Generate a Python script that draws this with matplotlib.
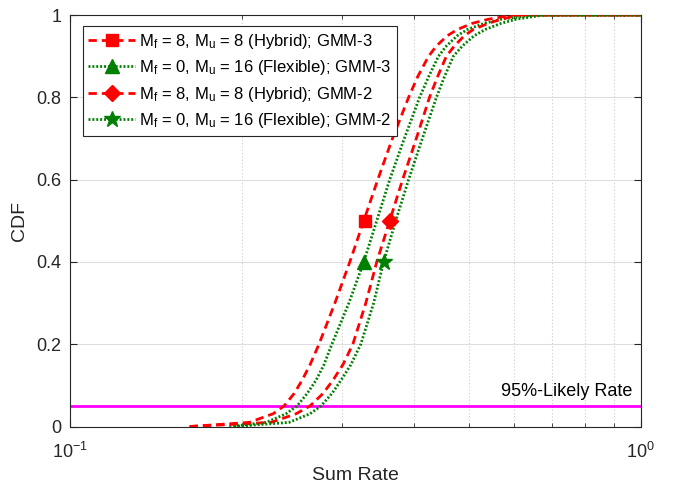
import matplotlib
matplotlib.use("Agg")
import matplotlib.pyplot as plt
from matplotlib.ticker import LogLocator, NullFormatter, FixedLocator

plt.rcParams['font.family'] = ['Liberation Sans', 'DejaVu Sans']
plt.rcParams['mathtext.fontset'] = 'custom'
plt.rcParams['mathtext.rm'] = 'Liberation Sans'
plt.rcParams['mathtext.it'] = 'Liberation Sans'

# CDF levels
cdf_levels = [0, 0.01, 0.031, 0.05, 0.08, 0.112, 0.15, 0.2, 0.3, 0.4, 0.5, 0.6,
              0.695, 0.8, 0.85, 0.9, 0.925, 0.95, 0.965, 0.98, 0.99, 1.0, 1.0]

# sum rate at each CDF level
hybrid_gmm3 = [0.1620, 0.2061, 0.2270, 0.2372, 0.2470, 0.2550, 0.2634, 0.2731,
               0.2912, 0.3093, 0.3272, 0.3462, 0.3662, 0.3921, 0.4066, 0.4250,
               0.4387, 0.4585, 0.4773, 0.5070, 0.5408, 0.5978, 1.0]
flex_gmm3 = [0.1902, 0.2207, 0.2391, 0.2500, 0.2603, 0.2698, 0.2786, 0.2877,
             0.3081, 0.3272, 0.3448, 0.3633, 0.3842, 0.4099, 0.4250, 0.4423,
             0.4567, 0.4773, 0.4969, 0.5321, 0.5696, 0.6479, 1.0]
hybrid_gmm2 = [0.1620, 0.2252, 0.2490, 0.2634, 0.2775, 0.2888, 0.3007, 0.3131,
               0.3299, 0.3448, 0.3633, 0.3827, 0.4034, 0.4266, 0.4406, 0.4567,
               0.4716, 0.4910, 0.5090, 0.5408, 0.5696, 0.6100, 1.0]
flex_gmm2 = [0.1941, 0.2420, 0.2634, 0.2753, 0.2877, 0.2983, 0.3105, 0.3233,
             0.3405, 0.3545, 0.3722, 0.3921, 0.4133, 0.4387, 0.4530, 0.4697,
             0.4871, 0.5111, 0.5341, 0.5696, 0.6050, 0.6745, 1.0]

# single marker per curve
marker_x = [0.3286, 0.3272, 0.3633, 0.3545]
marker_y = [0.5, 0.4, 0.5, 0.4]

labels = [r'M$_\mathregular{f}$ = 8, M$_\mathregular{u}$ = 8 (Hybrid); GMM-3',
          r'M$_\mathregular{f}$ = 0, M$_\mathregular{u}$ = 16 (Flexible); GMM-3',
          r'M$_\mathregular{f}$ = 8, M$_\mathregular{u}$ = 8 (Hybrid); GMM-2',
          r'M$_\mathregular{f}$ = 0, M$_\mathregular{u}$ = 16 (Flexible); GMM-2']

likely_level = 0.05

red = (1, 0, 0)
green = (0, 0.5, 0)
dashed = (0, (3, 1.8))
dotted = (0, (0.7, 0.7))
styles = [(red, dashed, 's', 8),
          (green, dotted, '^', 10),
          (red, dashed, 'D', 8),
          (green, dotted, '*', 12)]

fig = plt.figure(figsize=(6.76, 4.88), dpi=100)
ax = fig.add_axes([0.1036, 0.126, 0.8440, 0.843])

ax.axhline(likely_level, color=(1, 0, 1), lw=2, zorder=2)

handles = []
for i, series in enumerate([hybrid_gmm3, flex_gmm3, hybrid_gmm2, flex_gmm2]):
    color, ls, mk, ms = styles[i]
    ax.plot(series, cdf_levels, color=color, linestyle=ls, lw=2, zorder=3)
    ax.plot(marker_x[i], marker_y[i], linestyle='none', marker=mk, ms=ms,
            color=color, zorder=4)
    h, = ax.plot([], [], color=color, linestyle=ls, lw=2, marker=mk, ms=ms)
    handles.append(h)

ax.text(0.985, likely_level + 0.015, '95%-Likely Rate', fontsize=13,
        ha='right', va='bottom', transform=ax.get_yaxis_transform(),
        color='black')

ax.set_xscale('log')
ax.set_xlim(0.1, 1)
ax.set_ylim(0, 1)
ax.xaxis.set_major_locator(FixedLocator([0.1, 1]))
ax.xaxis.set_minor_locator(LogLocator(base=10, subs=range(2, 10)))
ax.xaxis.set_minor_formatter(NullFormatter())
ax.set_yticks([0, 0.2, 0.4, 0.6, 0.8, 1])
ax.set_yticklabels(['0', '0.2', '0.4', '0.6', '0.8', '1'])

ax.grid(True, which='major', color=(0.87, 0.87, 0.87), lw=0.8)
ax.grid(True, which='minor', axis='x', color=(0.8, 0.8, 0.8), lw=0.8,
        linestyle=(0, (1, 2)))
ax.set_axisbelow(True)

ax.tick_params(which='both', direction='in', top=True, right=True,
               colors=(0.15, 0.15, 0.15), labelsize=13, labelcolor=(0.15, 0.15, 0.15))
ax.tick_params(which='major', length=5)
ax.tick_params(axis='y', which='major', pad=6)
ax.tick_params(axis='x', which='major', pad=11)
ax.tick_params(which='minor', length=3)
for sp in ax.spines.values():
    sp.set_color((0.15, 0.15, 0.15))
    sp.set_linewidth(0.8)

ax.set_xlabel('Sum Rate', fontsize=14, labelpad=4, color=(0.15, 0.15, 0.15))
ax.set_ylabel('CDF', fontsize=14, labelpad=6, color=(0.15, 0.15, 0.15))

leg = ax.legend(handles, labels, loc='upper left', fontsize=12,
                bbox_to_anchor=(0.022, 0.974), fancybox=False, framealpha=1,
                edgecolor=(0.15, 0.15, 0.15), handlelength=2.8,
                handletextpad=0.25, borderpad=0.35, borderaxespad=0,
                labelspacing=0.45)
leg.get_frame().set_linewidth(0.8)

fig.savefig('out.png', dpi=100)
